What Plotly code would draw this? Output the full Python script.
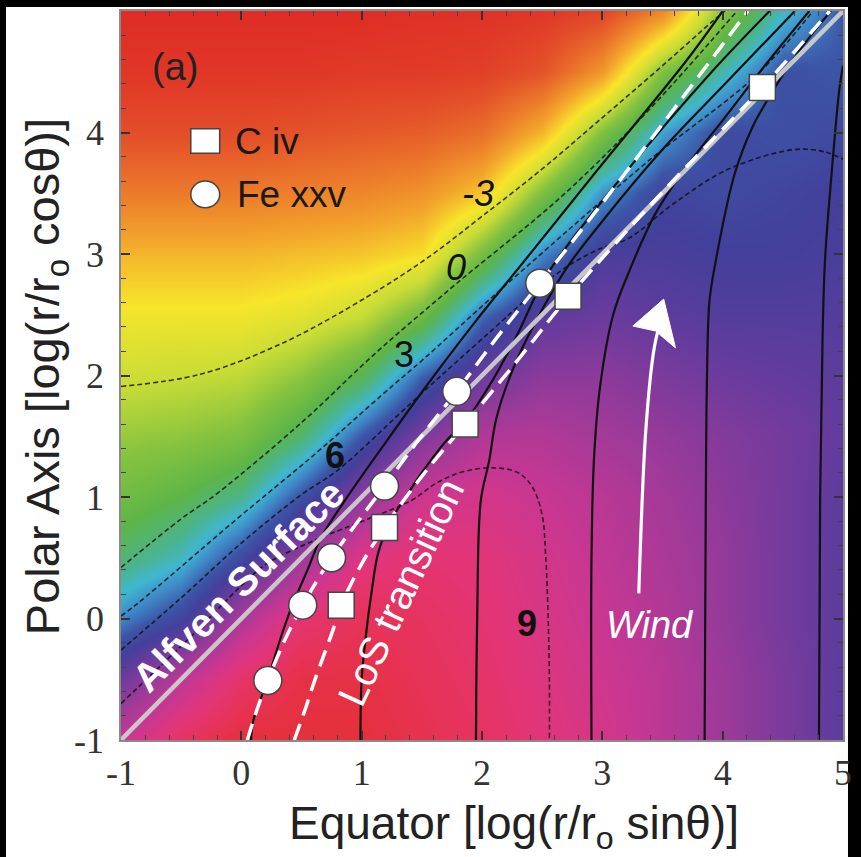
import plotly.graph_objects as go

# ---------------------------------------------------------------------------
# Background field on a regular grid (log r sin(theta), log r cos(theta))
# ---------------------------------------------------------------------------
grid_x = [-1.0, -0.5, 0.0, 0.5, 1.0, 1.5, 2.0, 2.5, 3.0, 3.5, 4.0, 4.5, 5.0]
grid_y = [-1.0, -0.5, 0.0, 0.5, 1.0, 1.5, 2.0, 2.5, 3.0, 3.5, 4.0, 4.5, 5.0]
level = [
    [0.88, 0.96, 1.00, 1.00, 1.00, 0.98, 0.96, 0.93, 0.90, 0.86, 0.82, 0.78, 0.74],
    [0.76, 0.86, 0.95, 0.99, 0.99, 0.97, 0.95, 0.92, 0.89, 0.86, 0.82, 0.78, 0.74],
    [0.63, 0.70, 0.84, 0.94, 0.97, 0.96, 0.94, 0.91, 0.88, 0.85, 0.81, 0.77, 0.74],
    [0.53, 0.58, 0.69, 0.82, 0.92, 0.94, 0.93, 0.90, 0.87, 0.84, 0.81, 0.77, 0.74],
    [0.47, 0.50, 0.55, 0.68, 0.80, 0.89, 0.90, 0.88, 0.86, 0.83, 0.80, 0.77, 0.74],
    [0.42, 0.43, 0.45, 0.53, 0.67, 0.78, 0.85, 0.85, 0.83, 0.81, 0.79, 0.77, 0.75],
    [0.36, 0.37, 0.38, 0.43, 0.51, 0.66, 0.76, 0.80, 0.80, 0.78, 0.76, 0.75, 0.74],
    [0.31, 0.31, 0.31, 0.33, 0.37, 0.47, 0.65, 0.74, 0.76, 0.74, 0.73, 0.73, 0.73],
    [0.24, 0.24, 0.24, 0.25, 0.26, 0.29, 0.46, 0.63, 0.72, 0.72, 0.71, 0.71, 0.72],
    [0.15, 0.15, 0.15, 0.16, 0.17, 0.19, 0.26, 0.45, 0.62, 0.70, 0.69, 0.70, 0.71],
    [0.07, 0.07, 0.07, 0.08, 0.09, 0.10, 0.13, 0.24, 0.45, 0.61, 0.69, 0.68, 0.69],
    [0.02, 0.02, 0.02, 0.02, 0.03, 0.03, 0.04, 0.08, 0.20, 0.45, 0.57, 0.68, 0.67],
    [0.00, 0.00, 0.00, 0.00, 0.00, 0.01, 0.01, 0.02, 0.05, 0.17, 0.44, 0.58, 0.67],
]

rainbow = [
    [0.00, "#de2d26"], [0.08, "#e4522a"], [0.15, "#ec7a2b"], [0.22, "#f3a52c"],
    [0.30, "#f7e52b"], [0.37, "#c9dc36"], [0.44, "#84c240"], [0.50, "#5db548"],
    [0.55, "#4cb48a"], [0.59, "#40b6d0"], [0.63, "#3f86c6"], [0.67, "#3c55a6"],
    [0.71, "#433f9b"], [0.76, "#6b3b9d"], [0.82, "#9c3a99"], [0.88, "#c83792"],
    [0.93, "#e23579"], [0.97, "#e63358"], [1.00, "#e5303c"],
]

# ---------------------------------------------------------------------------
# Dashed contours (labelled -3, 0, 3, 6, 9)
# ---------------------------------------------------------------------------
cont_m3_x = [-1.0, -0.34, 0.35, 1.05, 1.55, 2.0, 2.5, 2.95, 3.5, 3.91, 4.02]
cont_m3_y = [1.91, 2.01, 2.27, 2.65, 2.97, 3.31, 3.70, 4.08, 4.55, 4.91, 5.0]
cont_0_x = [-1.0, -0.5, -0.2, 0.52, 1.1, 1.78, 2.68, 3.4, 4.12]
cont_0_y = [0.42, 0.82, 1.03, 1.63, 2.17, 2.75, 3.49, 4.2, 5.0]
cont_3_x = [-1.0, -0.86, -0.06, 0.62, 1.18, 1.52, 2.0, 2.64, 3.4, 4.29, 4.75]
cont_3_y = [0.02, 0.125, 0.80, 1.36, 1.85, 2.14, 2.57, 3.13, 3.78, 4.48, 5.0]
cont_6_x = [-1.0, -0.5, 0.0, 0.5, 0.8, 1.44, 2.0, 2.64, 2.95, 3.22, 3.6, 4.05, 4.6, 4.85, 5.0]
cont_6_y = [-0.26, 0.17, 0.62, 1.02, 1.22, 1.80, 2.30, 2.85, 3.03, 3.13, 3.42, 3.70, 3.86, 3.84, 3.78]
cont_9_x = [-1.0, -0.4, 0.0, 0.21, 0.6, 1.03, 1.41, 1.63, 1.85, 2.1, 2.3, 2.42, 2.5, 2.53, 2.55, 2.56, 2.56]
cont_9_y = [-0.70, -0.13, 0.27, 0.45, 0.64, 0.81, 0.97, 1.12, 1.21, 1.24, 1.20, 1.08, 0.85, 0.50, 0.0, -0.5, -1.0]

contour_labels = ["<i>-3</i>", "<i>0</i>", "3", "<b>6</b>", "<b>9</b>"]
contour_label_x = [1.97, 1.78, 1.355, 0.775, 2.37]
contour_label_y = [3.50, 2.886, 2.175, 1.34, -0.045]

# ---------------------------------------------------------------------------
# Field lines (solid black)
# ---------------------------------------------------------------------------
field_lines = {
    "L1": ([0.08, 0.10, 0.22, 0.33, 0.42, 0.55, 0.66, 0.86, 1.2, 1.55, 1.95, 2.35, 2.95, 3.69, 4.0],
           [-1.0, -0.84, -0.5, -0.15, 0.10, 0.40, 0.66, 0.97, 1.45, 1.93, 2.45, 2.94, 3.68, 4.58, 5.0]),
    "L2": ([0.99, 1.0, 1.04, 1.08, 1.14, 1.25, 1.36, 1.5, 1.7, 1.86, 2.1, 2.3, 2.54, 3.2, 3.91, 4.39],
           [-1.0, -0.5, -0.1, 0.2, 0.55, 0.82, 0.99, 1.2, 1.46, 1.62, 1.98, 2.35, 2.83, 3.68, 4.5, 5.0]),
    "L3": ([1.95, 1.96, 1.99, 2.06, 2.12, 2.26, 2.45, 2.70, 3.0, 3.5, 4.0, 4.6],
           [-1.0, 0.0, 0.97, 1.30, 1.65, 2.06, 2.45, 2.88, 3.27, 3.86, 4.38, 5.0]),
    "L4": ([2.91, 2.91, 2.93, 2.98, 3.09, 3.22, 3.44, 3.7, 4.0, 4.35, 4.72],
           [-1.0, 0.5, 1.3, 1.9, 2.5, 2.85, 3.33, 3.72, 4.1, 4.55, 5.0]),
    "L5": ([3.85, 3.86, 3.87, 3.89, 3.94, 4.10, 4.25, 4.38, 4.55, 4.75, 4.9],
           [-1.0, 1.0, 2.0, 2.61, 2.93, 3.66, 4.05, 4.28, 4.55, 4.82, 5.0]),
    "L6": ([4.80, 4.81, 4.83, 4.85, 4.9, 4.97, 5.0],
           [-1.0, 1.0, 2.3, 2.94, 3.6, 4.36, 4.55]),
}

# Alfven surface and line-of-sight transitions
alfven_x = [-1.0, 5.0]
alfven_y = [-1.0, 5.0]
los_fe_x = [0.05, 0.12, 0.22, 0.36, 0.51, 0.75, 0.97, 1.19, 1.48, 1.79, 2.13, 2.48, 3.0, 3.6, 4.21]
los_fe_y = [-1.0, -0.78, -0.51, -0.18, 0.11, 0.50, 0.80, 1.09, 1.48, 1.87, 2.32, 2.76, 3.42, 4.2, 5.0]
los_c_x = [0.44, 0.53, 0.62, 0.76, 0.83, 1.0, 1.19, 1.5, 1.86, 2.3, 2.72, 3.5, 4.33, 4.89]
los_c_y = [-1.0, -0.75, -0.48, -0.10, 0.11, 0.45, 0.75, 1.17, 1.60, 2.13, 2.65, 3.51, 4.37, 5.0]

# Ion markers
civ_x = [0.83, 1.19, 1.86, 2.715, 4.33]
civ_y = [0.11, 0.75, 1.60, 2.653, 4.37]
fexxv_x = [0.22, 0.51, 0.75, 1.19, 1.79, 2.48]
fexxv_y = [-0.51, 0.11, 0.50, 1.09, 1.87, 2.76]

# Wind arrow (shaft and head)
wind_shaft_x = [3.303, 3.361, 3.427, 3.47]
wind_shaft_y = [0.207, 1.545, 2.202, 2.40]
wind_head = [(3.510, 2.629), (3.254, 2.407), (3.443, 2.366), (3.608, 2.227)]

tick_vals = [-1, 0, 1, 2, 3, 4, 5]
tick_text = ["-1", "0", "1", "2", "3", "4", "5"]
ytick_vals = [-1, 0, 1, 2, 3, 4]
ytick_text = ["-1", "0", "1", "2", "3", "4"]

SANS = "Liberation Sans, Arial, sans-serif"
SERIF = "Liberation Serif, Times New Roman, serif"

fig = go.Figure()

fig.add_trace(go.Heatmap(
    x=grid_x, y=grid_y, z=level, zmin=0, zmax=1, colorscale=rainbow,
    zsmooth="best", showscale=False, hoverinfo="skip",
))

dash_style = dict(color="rgba(10,10,10,0.78)", width=1.6, dash="5px,3px")
for cx, cy in [(cont_m3_x, cont_m3_y), (cont_0_x, cont_0_y), (cont_3_x, cont_3_y),
               (cont_6_x, cont_6_y), (cont_9_x, cont_9_y)]:
    fig.add_trace(go.Scatter(x=cx, y=cy, mode="lines", line=dash_style,
                             line_shape="spline", hoverinfo="skip", showlegend=False))

for name, (fx, fy) in field_lines.items():
    fig.add_trace(go.Scatter(x=fx, y=fy, mode="lines",
                             line=dict(color="#111111", width=2.2),
                             line_shape="spline", hoverinfo="skip", showlegend=False))

fig.add_trace(go.Scatter(x=alfven_x, y=alfven_y, mode="lines",
                         line=dict(color="rgba(205,205,205,0.95)", width=4.5),
                         hoverinfo="skip", showlegend=False))

for lx, ly in [(los_fe_x, los_fe_y), (los_c_x, los_c_y)]:
    fig.add_trace(go.Scatter(x=lx, y=ly, mode="lines",
                             line=dict(color="white", width=3.5, dash="17px,9px"),
                             line_shape="spline", hoverinfo="skip", showlegend=False))

fig.add_trace(go.Scatter(x=wind_shaft_x, y=wind_shaft_y, mode="lines",
                         line=dict(color="white", width=3.2), line_shape="spline",
                         hoverinfo="skip", showlegend=False))

fig.add_trace(go.Scatter(x=civ_x, y=civ_y, mode="markers", name="C iv",
                         marker=dict(symbol="square", size=26, color="white",
                                     line=dict(color="#444444", width=1.5)),
                         hoverinfo="skip", showlegend=False))
fig.add_trace(go.Scatter(x=fexxv_x, y=fexxv_y, mode="markers", name="Fe xxv",
                         marker=dict(symbol="circle", size=28, color="white",
                                     line=dict(color="#444444", width=1.5)),
                         hoverinfo="skip", showlegend=False))

head_path = "M {} {} L {} {} L {} {} L {} {} Z".format(
    wind_head[0][0], wind_head[0][1], wind_head[1][0], wind_head[1][1],
    wind_head[2][0], wind_head[2][1], wind_head[3][0], wind_head[3][1])

shapes = [
    # white page with a thin black border around the figure
    dict(type="rect", xref="paper", yref="paper", x0=-0.1593, x1=1.0069,
         y0=-0.17, y1=1.0055, fillcolor="white", line=dict(width=0), layer="below"),
    # arrow head
    dict(type="path", path=head_path, xref="x", yref="y", fillcolor="white",
         line=dict(color="white", width=1)),
    # legend symbols
    dict(type="rect", xref="x", yref="y", x0=-0.42, x1=-0.18, y0=3.83, y1=4.03,
         fillcolor="white", line=dict(color="#444444", width=1.5)),
    dict(type="circle", xref="x", yref="y", x0=-0.42, x1=-0.18, y0=3.38, y1=3.60,
         fillcolor="white", line=dict(color="#444444", width=1.5)),
]

annotations = [
    dict(x=-0.555, y=4.54, text="(a)", font=dict(family=SANS, size=38, color="#222222")),
    dict(x=-0.07, y=3.93, text="C iv", xanchor="left",
         font=dict(family=SANS, size=37, color="#1a1a1a")),
    dict(x=-0.055, y=3.49, text="Fe xxv", xanchor="left",
         font=dict(family=SANS, size=37, color="#1a1a1a")),
    dict(x=-0.03, y=0.27, text="<b>Alfven Surface</b>", textangle=-45,
         font=dict(family=SANS, size=40, color="white")),
    dict(x=1.325, y=0.22, text="LoS transition", textangle=-65,
         font=dict(family=SANS, size=40, color="white")),
    dict(x=3.40, y=-0.056, text="<i>Wind</i>",
         font=dict(family=SANS, size=38, color="white")),
    dict(x=0.545, y=-0.119, xref="paper", yref="paper",
         text="Equator [log(r/r<sub>o</sub> sinθ)]",
         font=dict(family=SANS, size=46, color="#222222")),
    dict(x=-0.104, y=0.499, xref="paper", yref="paper", textangle=-90,
         text="Polar Axis [log(r/r<sub>o</sub> cosθ)]",
         font=dict(family=SANS, size=47, color="#222222")),
]
for txt, lx, ly in zip(contour_labels, contour_label_x, contour_label_y):
    annotations.append(dict(x=lx, y=ly, text=txt,
                            font=dict(family=SANS, size=36, color="#111111")))
for a in annotations:
    a.setdefault("showarrow", False)
    a.setdefault("xanchor", "center")
    a.setdefault("yanchor", "middle")

axis_common = dict(
    showgrid=False, zeroline=False, showline=True, linecolor="#8a8a8a", linewidth=1.5,
    mirror="ticks", ticks="inside", ticklen=9, tickwidth=1.5, tickcolor="#333333",
    minor=dict(dtick=0.2, ticks="inside", ticklen=5, tickwidth=1.2, tickcolor="#444444"),
    tickfont=dict(family=SERIF, size=36, color="#333333"),
)

fig.update_layout(
    width=861, height=857,
    margin=dict(l=121, r=12, t=9, b=117),
    paper_bgcolor="black", plot_bgcolor="white",
    showlegend=False,
    shapes=shapes, annotations=annotations,
    xaxis=dict(range=[-1, 5], tickvals=tick_vals, ticktext=tick_text,
               ticklabelstandoff=0, **axis_common),
    yaxis=dict(range=[-1, 5], tickvals=ytick_vals, ticktext=ytick_text,
               ticklabelstandoff=8, **axis_common),
)

fig.write_html("out.html")
